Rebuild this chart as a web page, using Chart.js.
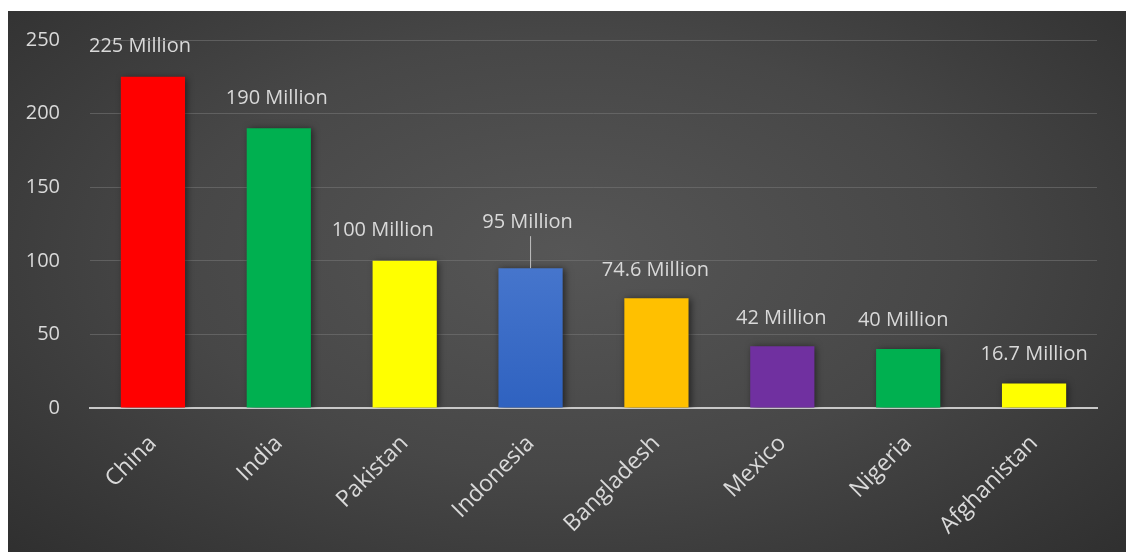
<!DOCTYPE html>
<html>
<head>
<meta charset="utf-8">
<script src="https://cdn.jsdelivr.net/npm/chart.js@4/dist/chart.umd.min.js"></script>
<style>
  html, body { margin: 0; padding: 0; background: #ffffff; }
  #wrap {
    position: absolute; left: 8px; top: 11px; width: 1118px; height: 541px;
    background: radial-gradient(ellipse 70% 80% at 50% 45%, #565656 0%, #474747 50%, #363636 85%, #2f2f2f 100%);
  }
  canvas { display: block; }
</style>
</head>
<body>
<div id="wrap"><canvas id="c" width="1118" height="541"></canvas></div>
<script>
const categories = ["China", "India", "Pakistan", "Indonesia", "Bangladesh", "Mexico", "Nigeria", "Afghanistan"];
const values = [225, 190, 100, 95, 74.6, 42, 40, 16.7];
const valueLabels = ["225 Million", "190 Million", "100 Million", "95 Million", "74.6 Million", "42 Million", "40 Million", "16.7 Million"];
const barColors = ["#ff0000", "#00b050", "#ffff00", "#4472c4", "#ffc000", "#7030a0", "#00b050", "#ffff00"];
const yTicks = [0, 50, 100, 150, 200, 250];

const FONT = "'Open Sans', 'Noto Sans', sans-serif";
const TXT = "#d9d9d9";

// label placement tweaks (dx, dy relative to bar top centre)
const labelShift = [[-13, -31], [-2, -30], [-22, -31], [-3, -46], [-1, -28], [-1, -28], [-5, -29], [0, -29]];

const shadowPlugin = {
  id: 'barShadow',
  beforeDatasetsDraw(chart) {
    const ctx = chart.ctx;
    ctx.save();
    ctx.shadowColor = 'rgba(0,0,0,0.55)';
    ctx.shadowBlur = 7;
    ctx.shadowOffsetX = 2;
    ctx.shadowOffsetY = 1;
  },
  afterDatasetsDraw(chart) {
    chart.ctx.restore();
  }
};

const labelPlugin = {
  id: 'valueLabels',
  afterDatasetsDraw(chart) {
    const ctx = chart.ctx;
    const meta = chart.getDatasetMeta(0);
    ctx.save();
    ctx.font = "20px " + FONT;
    ctx.fillStyle = TXT;
    ctx.textAlign = 'center';
    ctx.textBaseline = 'middle';
    meta.data.forEach((bar, i) => {
      const [dx, dy] = labelShift[i];
      const x = bar.x + dx, y = bar.y + dy;
      ctx.fillText(valueLabels[i], x, y);
      if (dy < -40) {
        ctx.strokeStyle = '#bfbfbf';
        ctx.lineWidth = 1;
        ctx.beginPath();
        ctx.moveTo(bar.x, y + 14);
        ctx.lineTo(bar.x, bar.y);
        ctx.stroke();
      }
    });
    ctx.restore();
  }
};

new Chart(document.getElementById('c'), {
  type: 'bar',
  data: {
    labels: categories,
    datasets: [{
      data: values,
      backgroundColor: (c) => {
        const i = c.dataIndex;
        if (i === 3 && c.chart.chartArea) {
          const ca = c.chart.chartArea;
          const g = c.chart.ctx.createLinearGradient(0, ca.top, 0, ca.bottom);
          g.addColorStop(0, '#6b95e0');
          g.addColorStop(1, '#2f62c0');
          return g;
        }
        return barColors[i];
      },
      borderWidth: 0,
      categoryPercentage: 1.0,
      barPercentage: 0.51
    }]
  },
  options: {
    responsive: false,
    animation: false,
    devicePixelRatio: 1,
    layout: { padding: { left: 0, right: 29, top: 29, bottom: 0 } },
    plugins: { legend: { display: false }, tooltip: { enabled: false } },
    scales: {
      x: {
        grid: { display: false, drawTicks: false },
        border: { display: true, color: '#c8c8c8', width: 2 },
        ticks: {
          color: TXT, font: { size: 23, family: FONT },
          minRotation: 45, maxRotation: 45, padding: 22
        },
        afterFit(s) { s.height = 144; }
      },
      y: {
        min: 0, max: 250,
        afterBuildTicks(s) { s.ticks = yTicks.map(v => ({ value: v })); },
        grid: { color: 'rgba(120,120,120,0.55)', lineWidth: 1, drawTicks: false },
        border: { display: false },
        ticks: { color: TXT, font: { size: 20, family: FONT }, padding: 30 },
        afterFit(s) { s.width = 82; s.paddingTop = 12; s.paddingBottom = 12; }
      }
    }
  },
  plugins: [shadowPlugin, labelPlugin]
});
</script>
</body>
</html>
